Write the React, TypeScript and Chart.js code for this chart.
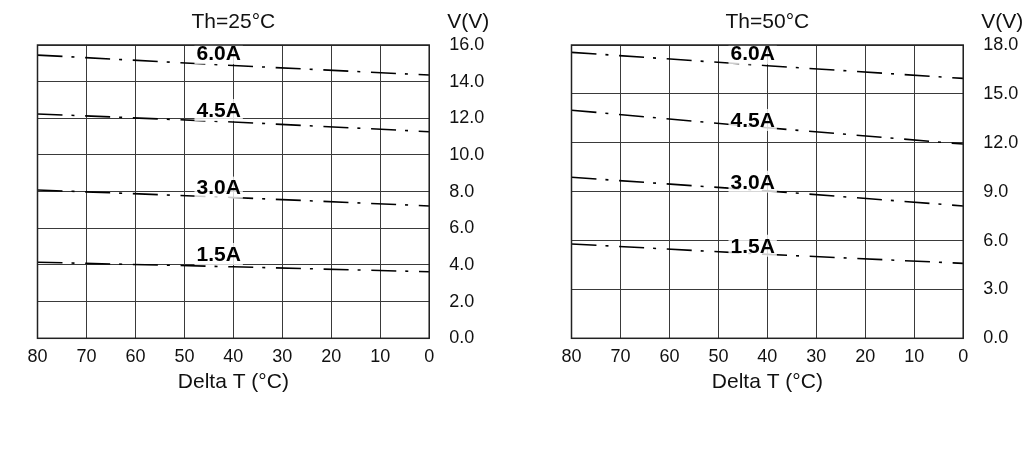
import { useEffect, useRef } from "react";
import { Chart, registerables } from "chart.js";

Chart.register(...registerables);

const FONT = "'Liberation Sans', Arial, sans-serif";

// shared x values (Delta T, °C) and the current labels
const deltaT = [80, 40, 0];
const currents = ["6.0A", "4.5A", "3.0A", "1.5A"];
const labelT = 43;

// Th = 25°C, V at Delta T = 80 / 40 / 0
const v25_60 = [15.45, 14.88, 14.36];
const v25_45 = [12.24, 11.8, 11.27];
const v25_30 = [8.09, 7.68, 7.22];
const v25_15 = [4.15, 3.9, 3.63];
const label25 = [15.56, 12.45, 8.22, 4.6];

// Th = 50°C
const v50_60 = [17.55, 16.73, 15.95];
const v50_45 = [14.0, 12.92, 11.92];
const v50_30 = [9.88, 9.05, 8.12];
const v50_15 = [5.79, 5.15, 4.6];
const label50 = [17.49, 13.4, 9.61, 5.68];

type Props = {
  title: string;
  yMax: number;
  yStep: number;
  series: number[][];
  labelV: number[];
  left: number;
};

const SubChart = ({ title, yMax, yStep, series, labelV, left }: Props) => {
  const chartRef = useRef<HTMLCanvasElement | null>(null);

  useEffect(() => {
    if (!chartRef.current) return;

    const extras = {
      id: "extras",
      afterDatasetsDraw(chart: Chart) {
        const { ctx, scales } = chart;
        ctx.save();
        ctx.font = `bold 21px ${FONT}`;
        ctx.textAlign = "center";
        ctx.textBaseline = "middle";
        labelV.forEach((v, i) => {
          const px = scales.x.getPixelForValue(labelT);
          const py = scales.y.getPixelForValue(v);
          const w = ctx.measureText(currents[i]).width;
          ctx.fillStyle = "rgba(255,255,255,0.8)";
          ctx.fillRect(px - w / 2 - 2, py - 11, w + 4, 22);
          ctx.fillStyle = "#000";
          ctx.fillText(currents[i], px, py + 1);
        });
        ctx.restore();
      },
      afterDraw(chart: Chart) {
        const { ctx, chartArea } = chart;
        ctx.save();
        ctx.strokeStyle = "#222";
        ctx.lineWidth = 1.5;
        ctx.strokeRect(
          chartArea.left,
          chartArea.top,
          chartArea.right - chartArea.left,
          chartArea.bottom - chartArea.top
        );
        ctx.font = `21px ${FONT}`;
        ctx.fillStyle = "#111";
        ctx.textAlign = "left";
        ctx.textBaseline = "middle";
        ctx.fillText("V(V)", chartArea.right + 18, 22);
        ctx.restore();
      },
    };

    const chartInstance = new Chart(chartRef.current, {
      type: "line",
      data: {
        labels: deltaT,
        datasets: series.map((s, i) => ({
          label: currents[i],
          data: s.map((v, j) => ({ x: deltaT[j], y: v })),
          borderColor: "#000",
          borderWidth: 1.6,
          borderDash: [25, 9, 3, 10.7],
          pointRadius: 0,
          fill: false,
          tension: 0,
        })),
      },
      options: {
        animation: false,
        responsive: false,
        layout: { padding: { left: 37.5, right: 0, top: 0, bottom: 0 } },
        plugins: {
          legend: { display: false },
          tooltip: { enabled: false },
          title: {
            display: true,
            text: title,
            fullSize: false,
            color: "#111",
            font: { size: 21, weight: "normal", family: FONT },
            padding: { top: 9.4, bottom: 10.4 },
          },
        },
        scales: {
          x: {
            type: "linear",
            reverse: true,
            min: 0,
            max: 80,
            afterFit: (scale) => {
              scale.height = 113.7;
            },
            ticks: {
              stepSize: 10,
              color: "#111",
              padding: 8,
              maxRotation: 0,
              font: { size: 18, family: FONT },
            },
            grid: { color: "#3a3a3a", lineWidth: 1, drawTicks: false },
            border: { display: false },
            title: {
              display: true,
              text: "Delta T (°C)",
              color: "#111",
              font: { size: 21, family: FONT },
              padding: { top: 0, bottom: 57 },
            },
          },
          y: {
            position: "right",
            min: 0,
            max: yMax,
            afterFit: (scale) => {
              scale.width = 60.8;
            },
            ticks: {
              stepSize: yStep,
              color: "#111",
              padding: 20,
              font: { size: 18, family: FONT },
              callback: (v) => Number(v).toFixed(1),
            },
            grid: { color: "#3a3a3a", lineWidth: 1, drawTicks: false },
            border: { display: false },
          },
        },
      },
      plugins: [extras],
    });

    return () => {
      chartInstance.destroy();
    };
  }, [title, yMax, yStep, series, labelV]);

  return (
    <canvas
      ref={chartRef}
      width={490}
      height={452}
      style={{ position: "absolute", left, top: 0, width: 490, height: 452 }}
    />
  );
};

const App = () => {
  return (
    <div
      style={{
        position: "absolute",
        left: 0,
        top: 0,
        width: 1024,
        height: 452,
        background: "#fff",
      }}
    >
      <SubChart
        title="Th=25°C"
        yMax={16}
        yStep={2}
        series={[v25_60, v25_45, v25_30, v25_15]}
        labelV={label25}
        left={0}
      />
      <SubChart
        title="Th=50°C"
        yMax={18}
        yStep={3}
        series={[v50_60, v50_45, v50_30, v50_15]}
        labelV={label50}
        left={534}
      />
    </div>
  );
};

export default App;
